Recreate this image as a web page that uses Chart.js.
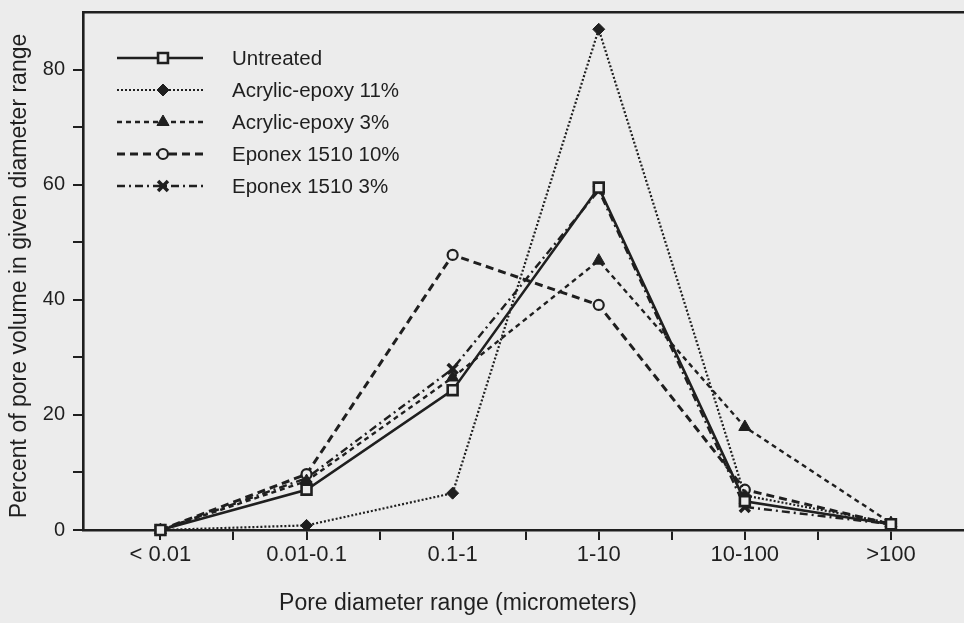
<!DOCTYPE html>
<html>
<head>
<meta charset="utf-8">
<script src="https://cdn.jsdelivr.net/npm/chart.js@4.4.1/dist/chart.umd.min.js"></script>
<style>
  html, body { margin: 0; padding: 0; background: #ececec; overflow: hidden; }
  #wrap { width: 964px; height: 623px; position: relative; }
</style>
</head>
<body>
<div id="wrap"><canvas id="c"></canvas></div>
<script>
// ---- data ----
const categories = ['< 0.01', '0.01-0.1', '0.1-1', '1-10', '10-100', '>100'];
const seriesNames = ['Untreated', 'Acrylic-epoxy 11%', 'Acrylic-epoxy 3%', 'Eponex 1510 10%', 'Eponex 1510 3%'];
const untreated  = [0, 7.0, 24.3, 59.5, 5.0, 1.0];
const acrylic11  = [0, 0.8, 6.4, 87.0, 6.0, 1.2];
const acrylic3   = [0, 8.5, 26.5, 46.8, 17.9, 1.2];
const eponex10   = [0, 9.7, 47.8, 39.1, 7.0, 1.0];
const eponex3    = [0, 9.0, 28.0, 59.0, 4.0, 1.0];
const yTickValues = [0, 10, 20, 30, 40, 50, 60, 70, 80];
const yLabelValues = [0, 20, 40, 60, 80];
const xTitle = 'Pore diameter range (micrometers)';
const yTitle = 'Percent of pore volume in given diameter range';

const INK = '#1f1f1f';
const PAPER = '#ececec';
const FONT = '"Liberation Sans", Arial, Helvetica, sans-serif';

function pts(arr) { return arr.map((v, i) => ({ x: i, y: v })); }

const styles = [
  { data: untreated, dash: [], width: 2.6, pointStyle: 'rect', radius: 7, fill: PAPER, bw: 2.6 },
  { data: acrylic11, dash: [2, 2], width: 2.2, pointStyle: 'rectRot', radius: 6, fill: INK, bw: 1 },
  { data: acrylic3, dash: [5, 4], width: 2.4, pointStyle: 'triangle', radius: 7, fill: INK, bw: 1 },
  { data: eponex10, dash: [8, 5], width: 3, pointStyle: 'circle', radius: 5, fill: PAPER, bw: 2.2 },
  { data: eponex3, dash: [8, 4, 2, 4], width: 2.4, pointStyle: 'crossRot', radius: 7, fill: INK, bw: 3.5 }
];

const datasets = styles.map((s, i) => ({
  label: seriesNames[i],
  data: pts(s.data),
  borderColor: INK,
  backgroundColor: s.fill,
  borderWidth: s.width,
  borderDash: s.dash,
  pointStyle: s.pointStyle,
  pointRadius: s.radius,
  pointBorderWidth: s.bw,
  pointBackgroundColor: s.fill,
  pointBorderColor: INK,
  tension: 0,
  fill: false,
  clip: false
}));

const overlayPlugin = {
  id: 'overlay',
  afterDraw(chart) {
    const ctx = chart.ctx;
    ctx.save();
    // legend
    const lx0 = 117, lx1 = 203, mx = 163, tx = 232, ly0 = 58, dy = 32;
    chart.data.datasets.forEach((ds, i) => {
      const y = ly0 + i * dy;
      ctx.strokeStyle = INK;
      ctx.lineWidth = ds.borderWidth;
      ctx.setLineDash(ds.borderDash);
      ctx.beginPath();
      ctx.moveTo(lx0, y); ctx.lineTo(lx1, y);
      ctx.stroke();
      ctx.setLineDash([]);
      ctx.fillStyle = ds.pointBackgroundColor;
      ctx.strokeStyle = INK;
      ctx.lineWidth = ds.pointBorderWidth;
      Chart.helpers.drawPoint(ctx, { pointStyle: ds.pointStyle, radius: ds.pointRadius, rotation: 0, borderWidth: ds.pointBorderWidth }, mx, y);
      ctx.fillStyle = INK;
      ctx.font = '20.5px ' + FONT;
      ctx.textAlign = 'left';
      ctx.textBaseline = 'middle';
      ctx.fillText(ds.label, tx, y + 1);
    });
    // axis titles
    ctx.fillStyle = INK;
    ctx.font = '23px ' + FONT;
    ctx.textAlign = 'center';
    ctx.textBaseline = 'middle';
    ctx.fillText(xTitle, 458, 604);
    ctx.translate(20, 276);
    ctx.rotate(-Math.PI / 2);
    ctx.fillText(yTitle, 0, 0);
    ctx.restore();
  }
};

new Chart(document.getElementById('c'), {
  type: 'line',
  data: { datasets },
  options: {
    responsive: true,
    maintainAspectRatio: false,
    animation: false,
    layout: { autoPadding: false, padding: { top: 12, left: 0, right: 0, bottom: 0 } },
    plugins: { legend: { display: false }, tooltip: { enabled: false } },
    scales: {
      x: {
        type: 'linear',
        min: -0.53,
        max: 5.5,
        afterBuildTicks(scale) {
          const t = [];
          for (let v = 0; v <= 5; v += 0.5) t.push({ value: v });
          scale.ticks = t;
        },
        afterFit(scale) { scale.height = 93; scale.paddingLeft = 0; scale.paddingRight = 0; },
        ticks: {
          autoSkip: false,
          maxRotation: 0,
          padding: 2,
          color: INK,
          font: { family: FONT, size: 22 },
          callback(v) { return Number.isInteger(v) ? categories[v] : ''; }
        },
        grid: { drawOnChartArea: false, drawTicks: true, tickLength: 10, color: INK, lineWidth: 2 },
        border: { display: true, color: INK, width: 2.6 }
      },
      xTop: {
        type: 'linear',
        position: 'top',
        min: 0, max: 1,
        afterFit(scale) { scale.height = 0; scale.paddingLeft = 0; scale.paddingRight = 0; },
        ticks: { display: false },
        grid: { display: false },
        border: { display: true, color: INK, width: 2.6 }
      },
      y: {
        type: 'linear',
        min: 0,
        max: 90,
        afterBuildTicks(scale) { scale.ticks = yTickValues.map(v => ({ value: v })); },
        afterFit(scale) { scale.width = 83; scale.paddingTop = 0; scale.paddingBottom = 0; },
        ticks: {
          autoSkip: false,
          padding: 8,
          color: INK,
          font: { family: FONT, size: 20 },
          callback(v) { return yLabelValues.includes(v) ? String(v) : ''; }
        },
        grid: { drawOnChartArea: false, drawTicks: true, tickLength: 10, color: INK, lineWidth: 2 },
        border: { display: true, color: INK, width: 2.6 }
      }
    }
  },
  plugins: [overlayPlugin]
});
</script>
</body>
</html>
